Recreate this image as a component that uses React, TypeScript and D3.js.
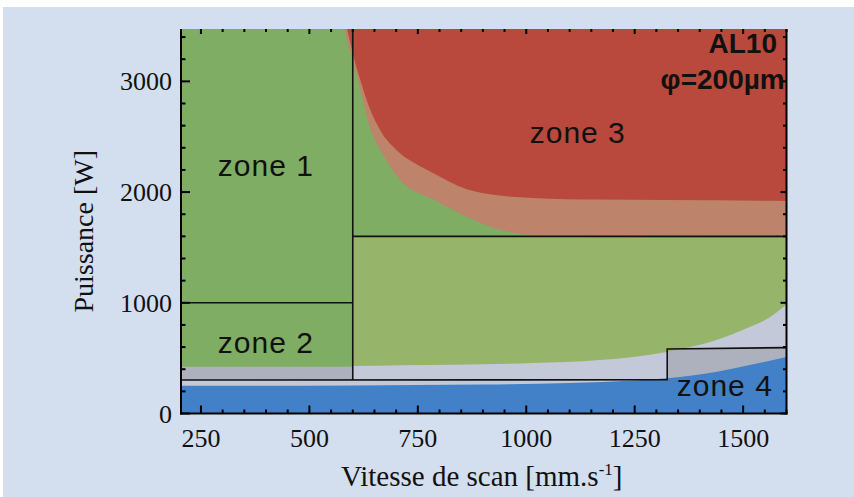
import React from "react";
import * as d3 from "d3";

const W = 854;
const H = 497;

// axis
const xDomain = [204, 1600];
const yDomain = [0, 3473];
const xMajorTicks = [250, 500, 750, 1000, 1250, 1500];
const yMajorTicks = [0, 1000, 2000, 3000];
const xMinorStep = 50;
const yMinorStep = 200;

// zone 3 (red) lower boundary
const redSpeed = [572, 590, 605, 620, 633, 663, 705, 745, 785, 863, 939, 1015, 1170, 1324, 1600];
const redPower = [3760, 3420, 3180, 2980, 2820, 2560, 2365, 2255, 2172, 2025, 1968, 1947, 1932, 1928, 1920];

// transition band (salmon) lower boundary
const salmonSpeed = [568, 583, 610, 640, 674, 709, 785, 863, 939, 1008, 1094, 1300, 1600];
const salmonPower = [3700, 3430, 3040, 2580, 2310, 2110, 1935, 1778, 1660, 1610, 1595, 1588, 1585];

// lower green boundary (speed > 600)
const greenSpeed = [600, 709, 1015, 1170, 1324, 1439, 1515, 1560, 1600];
const greenPower = [429, 436, 456, 483, 556, 664, 781, 865, 985];

// left green lower limit
const leftGreenSpeed = [204, 600];
const leftGreenPower = [423, 423];

// zone 4 (blue) upper boundary
const blueSpeed = [204, 600, 900, 1100, 1250, 1325, 1440, 1515, 1600];
const bluePower = [250, 254, 262, 275, 298, 318, 378, 438, 510];

// black boundary lines
const lineVertSpeed = [600, 600];
const lineVertPower = [302, 3473];
const line1000Speed = [204, 600];
const line1000Power = [1000, 1000];
const line1600Speed = [600, 1600];
const line1600Power = [1600, 1600];
const stepSpeed = [204, 1325, 1325, 1600];
const stepPower = [302, 305, 582, 595];

// darker grey boxes
const box2Speed = [204, 600, 600, 204];
const box2Power = [302, 302, 1000, 1000];
const box4Speed = [1325, 1600, 1600, 1325];
const box4Power = [305, 305, 595, 582];

// labels
const zoneLabels = ["zone 1", "zone 2", "zone 3", "zone 4"];
const zoneLabelSpeed = [289, 289, 1008, 1347];
const zoneLabelPower = [2145, 549, 2444, 158];
const titleLines = ["AL10", "φ=200µm"];
const titleSpeed = [1578, 1596];
const titlePower = [3257, 2931];

const C = {
  bg: "#d3deef",
  lightGrey: "#c3c9d8",
  darkGrey: "#adb1be",
  darkGreen: "#80ad64",
  lightGreen: "#96b56b",
  salmon: "#bd846b",
  red: "#b8493c",
  blue: "#4281c7",
};

const zip = (xs: number[], ys: number[]) => xs.map((x, i) => [x, ys[i]] as [number, number]);

export default function App() {
  const left = 181;
  const right = 786.5;
  const top = 29;
  const bottom = 413.5;
  const x = d3.scaleLinear().domain(xDomain).range([left, right]);
  const y = d3.scaleLinear().domain(yDomain).range([bottom, top]);
  const yTop = yDomain[1] + 400;

  const areaDown = (xs: number[], ys: number[], to: number) =>
    d3
      .area<[number, number]>()
      .x((d) => x(d[0]))
      .y0(() => y(to))
      .y1((d) => y(d[1]))
      .curve(d3.curveMonotoneX)(zip(xs, ys)) || "";

  const poly = (xs: number[], ys: number[]) =>
    d3.line<[number, number]>().x((d) => x(d[0])).y((d) => y(d[1]))(zip(xs, ys)) + "Z";
  const line = (xs: number[], ys: number[]) =>
    d3.line<[number, number]>().x((d) => x(d[0])).y((d) => y(d[1]))(zip(xs, ys)) || "";

  const xMinor = d3.range(xDomain[0] - (xDomain[0] % xMinorStep) + xMinorStep, xDomain[1] + 1, xMinorStep);
  const yMinor = d3.range(0, yDomain[1], yMinorStep);
  const isXMajor = (v: number) => v % 250 === 0;
  const isYMajor = (v: number) => v % 1000 === 0;

  return (
    <svg
      width={W}
      height={H}
      style={{ position: "absolute", left: 0, top: 0, display: "block" }}
      fontFamily="'Liberation Serif', 'Times New Roman', serif"
    >
      <defs>
        <clipPath id="plot">
          <rect x={left} y={top} width={right - left} height={bottom - top} />
        </clipPath>
      </defs>
      <rect x={0} y={0} width={W} height={H} fill="#ffffff" />
      <rect x={3} y={7} width={W - 3} height={H - 7} fill={C.bg} />

      <g clipPath="url(#plot)">
        <rect x={left} y={top} width={right - left} height={bottom - top} fill={C.lightGrey} />
        <path d={poly(box2Speed, box2Power)} fill={C.darkGrey} />
        <path d={poly(box4Speed, box4Power)} fill={C.darkGrey} />
        <path d={areaDown(leftGreenSpeed, leftGreenPower, yTop)} fill={C.darkGreen} />
        <rect
          x={x(600)}
          y={top}
          width={x(1600) - x(600) + 2}
          height={y(1600) - top}
          fill={C.darkGreen}
        />
        <path d={areaDown(greenSpeed, greenPower, 1600)} fill={C.lightGreen} />
        <path d={areaDown(salmonSpeed, salmonPower, yTop)} fill={C.salmon} />
        <path d={areaDown(redSpeed, redPower, yTop)} fill={C.red} />
        <path d={areaDown(blueSpeed, bluePower, 0)} fill={C.blue} />

        <g fill="none" stroke="#111" strokeWidth={1.6}>
          <path d={line(lineVertSpeed, lineVertPower)} />
          <path d={line(line1000Speed, line1000Power)} />
          <path d={line(line1600Speed, line1600Power)} />
          <path d={line(stepSpeed, stepPower)} />
        </g>
      </g>

      {/* axes */}
      <g stroke="#000" strokeWidth={2} fill="none">
        <line x1={left} x2={left} y1={top} y2={bottom + 1} />
        <line x1={left - 1} x2={right + 1} y1={bottom} y2={bottom} />
        <line x1={right} x2={right} y1={top} y2={bottom + 1} />
        {xMinor.map((v) => (
          <g key={"xt" + v}>
            <line x1={x(v)} x2={x(v)} y1={bottom} y2={bottom - (isXMajor(v) ? 8 : 4)} />
            <line x1={x(v)} x2={x(v)} y1={top} y2={top + (isXMajor(v) ? 5 : 3)} />
          </g>
        ))}
        {yMinor.map((v) => (
          <g key={"yt" + v}>
            <line x1={left} x2={left + (isYMajor(v) ? 9 : 4.5)} y1={y(v)} y2={y(v)} />
            <line x1={right} x2={right - (isYMajor(v) ? 6 : 3.5)} y1={y(v)} y2={y(v)} />
          </g>
        ))}
      </g>

      <g fontSize={26} fill="#111">
        {xMajorTicks.map((v) => (
          <text key={"xl" + v} x={x(v)} y={447} textAnchor="middle">
            {v}
          </text>
        ))}
        {yMajorTicks.map((v) => (
          <text key={"yl" + v} x={172} y={y(v) + 9} textAnchor="end">
            {v}
          </text>
        ))}
      </g>

      <text x={(left + right) / 2 - 2} y={486} textAnchor="middle" fontSize={29} fill="#111">
        Vitesse de scan [mm.s
        <tspan fontSize={17} dy={-11}>-1</tspan>
        <tspan dy={11}>]</tspan>
      </text>
      <text
        transform={`translate(93, ${(top + bottom) / 2 + 10}) rotate(-90)`}
        textAnchor="middle"
        fontSize={28}
        fill="#111"
      >
        Puissance [W]
      </text>

      <g fontFamily="'Liberation Sans', Arial, sans-serif" fill="#111">
        {zoneLabels.map((t, i) => (
          <text
            key={t}
            x={x(zoneLabelSpeed[i])}
            y={y(zoneLabelPower[i])}
            fontSize={30}
            letterSpacing={1}
          >
            {t}
          </text>
        ))}
        {titleLines.map((t, i) => (
          <text
            key={t}
            x={x(titleSpeed[i])}
            y={y(titlePower[i])}
            fontSize={28}
            fontWeight="bold"
            textAnchor="end"
          >
            {t}
          </text>
        ))}
      </g>
    </svg>
  );
}
